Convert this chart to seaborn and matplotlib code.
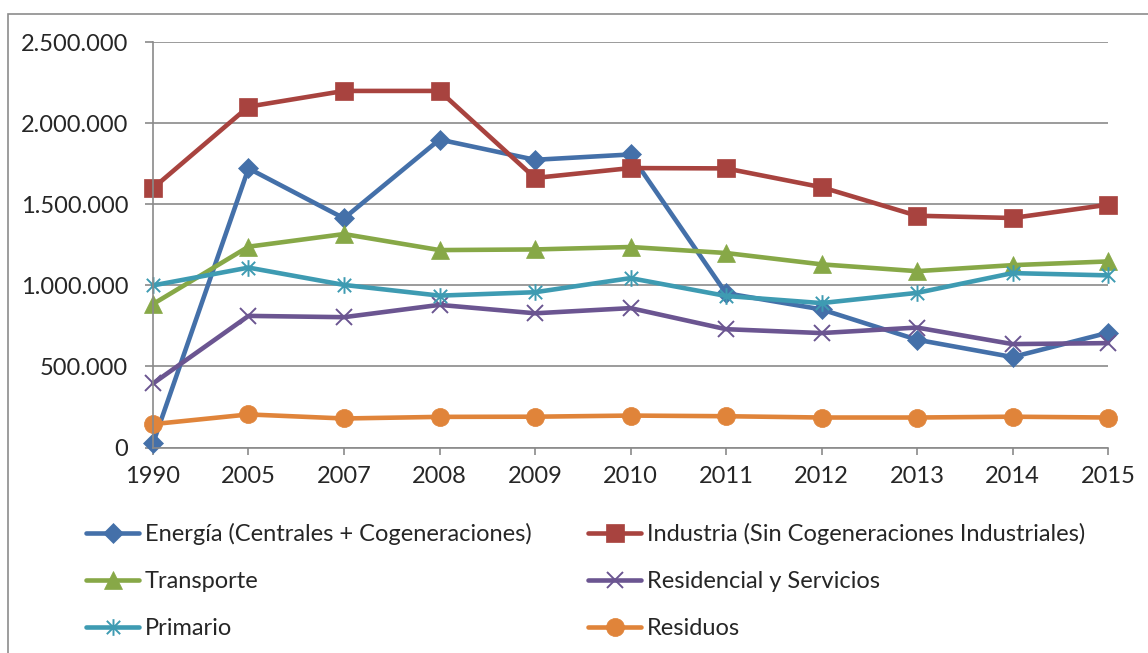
import matplotlib
matplotlib.use('Agg')
import matplotlib.pyplot as plt
import seaborn as sns
import pandas as pd
from matplotlib.path import Path
from matplotlib.patches import Rectangle
from matplotlib.lines import Line2D
from matplotlib.ticker import FuncFormatter, MultipleLocator

years = ['1990', '2005', '2007', '2008', '2009', '2010', '2011', '2012', '2013', '2014', '2015']

energia = [25000, 1722000, 1414000, 1900000, 1775000, 1808000, 952000, 852000, 665000, 558000, 708000]
industria = [1600000, 2103000, 2200000, 2200000, 1663000, 1724000, 1722000, 1606000, 1430000, 1416000, 1498000]
transporte = [885000, 1239000, 1317000, 1218000, 1222000, 1237000, 1200000, 1130000, 1088000, 1125000, 1148000]
residencial = [395000, 812000, 804000, 880000, 828000, 860000, 730000, 706000, 740000, 638000, 644000]
primario = [1000000, 1110000, 1003000, 937000, 958000, 1045000, 935000, 891000, 954000, 1076000, 1062000]
residuos = [144000, 204000, 179000, 189000, 190000, 197000, 193000, 185000, 185000, 190000, 185000]

labels = ['Energía (Centrales + Cogeneraciones)', 'Industria (Sin Cogeneraciones Industriales)',
          'Transporte', 'Residencial y Servicios', 'Primario', 'Residuos']
series = [energia, industria, transporte, residencial, primario, residuos]
colors = ['#4470A9', '#A8433F', '#87A847', '#6B5591', '#3E9BB2', '#E0843A']

asterisk = Path([(-1, -1), (1, 1), (-1, 1), (1, -1), (0, -1.25), (0, 1.25)],
                [Path.MOVETO, Path.LINETO, Path.MOVETO, Path.LINETO, Path.MOVETO, Path.LINETO])
styles = [
    dict(marker='D', markersize=10.5, mew=0.5),
    dict(marker='s', markersize=12.5, mew=0.5),
    dict(marker='^', markersize=13, mew=0.5),
    dict(marker='x', markersize=12, mew=1.4),
    dict(marker=asterisk, markersize=12, mew=1.4),
    dict(marker='o', markersize=13, mew=0.5),
]

sns.set_style('white')
plt.rcParams['font.family'] = ['Lato', 'DejaVu Sans']

fig = plt.figure(figsize=(11.48, 6.53), dpi=100)
ax = fig.add_axes([153 / 1148, 1 - 447.5 / 653, (1108 - 153) / 1148, (447.5 - 42.3) / 653])

for vals, lab, col, st in zip(series, labels, colors, styles):
    df = pd.DataFrame({'x': range(len(years)), 'valor': vals})
    sns.lineplot(data=df, x='x', y='valor', ax=ax, color=col, linewidth=3.3,
                 marker=st['marker'], markersize=st['markersize'],
                 markeredgecolor=col, markerfacecolor=col, markeredgewidth=st['mew'],
                 label=lab, clip_on=False, solid_joinstyle='round', legend=False)

ax.set_xlim(0, len(years) - 1)
ax.set_ylim(0, 2500000)
ax.set_xticks(range(len(years)))
ax.set_xticklabels(years)
ax.yaxis.set_major_locator(MultipleLocator(500000))
ax.yaxis.set_major_formatter(FuncFormatter(lambda v, p: f'{int(v):,}'.replace(',', '.')))
ax.set_xlabel('')
ax.set_ylabel('')

gray = '#8A8A8A'
ax.grid(axis='y', color=gray, linewidth=1.2)
ax.grid(axis='x', visible=False)
ax.set_axisbelow(True)
for s in ['top', 'right']:
    ax.spines[s].set_visible(False)
for s in ['left', 'bottom']:
    ax.spines[s].set_color(gray)
    ax.spines[s].set_linewidth(1.2)
ax.tick_params(axis='y', direction='out', length=5.8, width=1.2, color=gray, labelsize=17, pad=12, left=True)
ax.tick_params(axis='x', direction='out', length=5, width=1.2, color=gray, labelsize=17, pad=8, bottom=True)

handles = []
for lab, col, st in zip(labels, colors, styles):
    handles.append(Line2D([], [], color=col, linewidth=3.3, marker=st['marker'],
                          markersize=st['markersize'], markeredgecolor=col,
                          markerfacecolor=col, markeredgewidth=st['mew']))

leg_kw = dict(loc='center left', frameon=False, fontsize=17, handlelength=2.25,
              handletextpad=0.25, labelspacing=1.1, borderpad=0, borderaxespad=0, numpoints=1)
leg1 = fig.legend([handles[0], handles[2], handles[4]], [labels[0], labels[2], labels[4]],
                  bbox_to_anchor=(86 / 1148, 1 - 581 / 653), **leg_kw)
leg2 = fig.legend([handles[1], handles[3], handles[5]], [labels[1], labels[3], labels[5]],
                  bbox_to_anchor=(588 / 1148, 1 - 581 / 653), **leg_kw)

fig.patches.append(Rectangle((8 / 1148, -0.1), 1.2, (653 - 14) / 653 + 0.1,
                             transform=fig.transFigure, fill=False, edgecolor='#8C8C8C',
                             linewidth=1.2))

fig.savefig('out.png', dpi=100)
